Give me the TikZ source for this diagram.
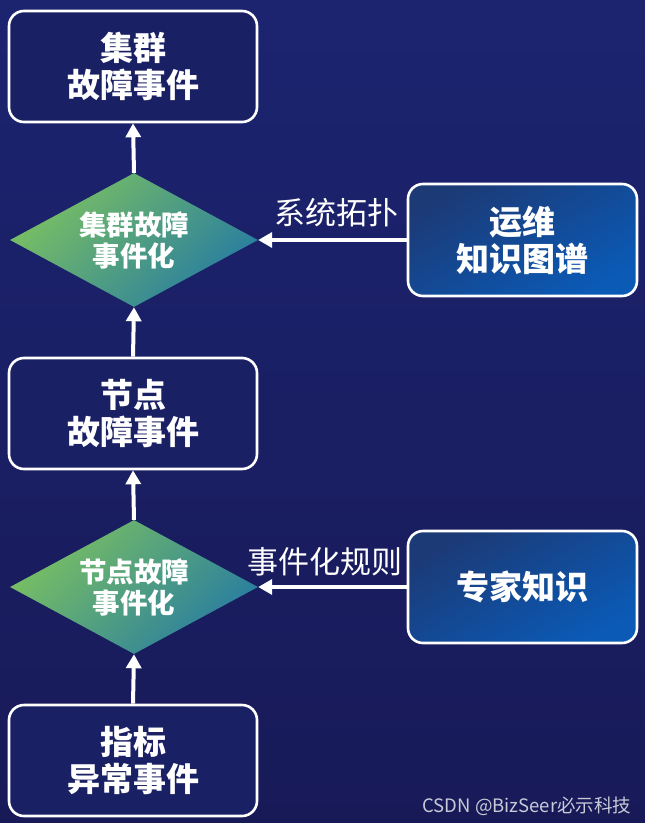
\documentclass[tikz,border=0pt]{standalone}
\usepackage{fontspec}
\newfontfamily\cjk{Noto Sans CJK SC}
\usetikzlibrary{shapes.geometric,arrows.meta}
\definecolor{bgtop}{RGB}{28,36,112}
\definecolor{bgbot}{RGB}{24,26,88}
\definecolor{boxfill}{RGB}{26,32,100}
\definecolor{dgreen}{RGB}{122,192,98}
\definecolor{dteal}{RGB}{40,125,160}
\definecolor{rdark}{RGB}{28,58,118}
\definecolor{rblue}{RGB}{10,90,182}
\definecolor{wmark}{RGB}{200,202,215}
\tikzset{
  evbox/.style={draw=white, line width=2.6pt, rounded corners=15pt, fill=boxfill,
    minimum width=248pt, minimum height=111pt, align=center, text=white,
    font=\cjk\bfseries\fontsize{33}{37}\selectfont, inner sep=0pt},
  kbox/.style={draw=white, line width=2.6pt, rounded corners=15pt,
    top color=rdark, bottom color=rblue, shading angle=30,
    minimum width=229pt, minimum height=112pt, align=center, text=white,
    font=\cjk\bfseries\fontsize{33}{37}\selectfont, inner sep=0pt},
  dmd/.style={diamond, aspect=1.85, minimum width=248pt, minimum height=134pt,
    inner sep=0pt, top color=dgreen, bottom color=dteal, shading angle=45,
    align=center, text=white, font=\cjk\bfseries\fontsize{27.5}{31}\selectfont},
  arr/.style={draw=white, line width=4pt, -{Triangle[width=15pt,length=14pt]}},
  lbl/.style={text=white, font=\cjk\fontsize{31}{34}\selectfont, inner sep=0pt}
}
\begin{document}
\begin{tikzpicture}[x=1pt,y=-1pt]
\useasboundingbox (0,0) rectangle (652,828);
\shade[top color=bgtop, bottom color=bgbot] (0,0) rectangle (645,823);
\fill[white] (645,0) rectangle (652,828);
\fill[white] (0,823) rectangle (652,828);

\node[evbox] (b1) at (133,66.5) {集群\\故障事件};
\node[dmd] (d1) at (134,240) {集群故障\\事件化};
\node[evbox] (b2) at (133,413.5) {节点\\故障事件};
\node[dmd] (d2) at (134,587) {节点故障\\事件化};
\node[evbox] (b3) at (133,760.5) {指标\\异常事件};

\node[kbox] (k1) at (522.5,240) {运维\\知识图谱};
\node[kbox] (k2) at (522.5,587) {专家知识};

\draw[arr] (d1.north) -- (b1.south);
\draw[arr] (b2.north) -- (d1.south);
\draw[arr] (d2.north) -- (b2.south);
\draw[arr] (b3.north) -- (d2.south);
\draw[arr] (k1.west) -- (d1.east);
\draw[arr] (k2.west) -- (d2.east);

\node[lbl] (l1) at (336,213) {系统拓扑};
\node[lbl] (l2) at (325,562) {事件化规则};

\node[text=wmark, font=\cjk\fontsize{18.5}{20}\selectfont, inner sep=0pt] (wm) at (527,806) {CSDN @BizSeer必示科技};
\end{tikzpicture}
\end{document}
